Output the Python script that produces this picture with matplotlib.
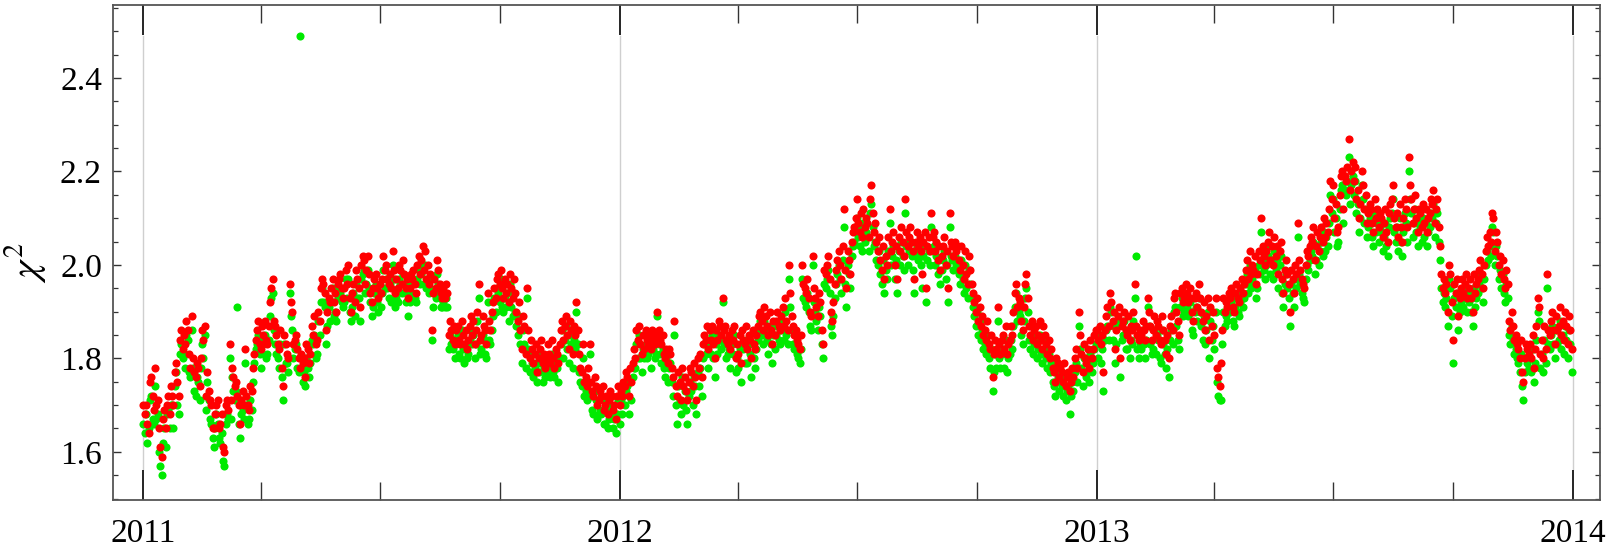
import numpy as np
import pandas as pd
import matplotlib
matplotlib.use("Agg")
import matplotlib.pyplot as plt
import matplotlib.dates as mdates
from matplotlib.ticker import MultipleLocator, FormatStrFormatter

# daily chi^2 of the two fits, in hundredths, one list per year
red_2011 = [
    170, 168, 170, 166, 164, 175, 176, 172, 169, 178,
    170, 171, 165, 161, 159, 167, 169, 165, 170, 172,
    168, 174, 172, 170, 177, 179, 175, 172, 184, 186,
    182, 185, 183, 188, 186, 181, 178, 189, 180, 177,
    176, 179, 178, 174, 180, 186, 184, 187, 172, 177,
    173, 171, 170, 165, 165, 168, 170, 171, 165, 166,
    168, 161, 160, 170, 171, 169, 183, 171, 178, 176,
    174, 175, 172, 170, 166, 171, 173, 170, 182, 172,
    170, 169, 174, 173, 178, 181, 184, 186, 188, 183,
    182, 187, 185, 188, 184, 183, 187, 192, 195, 197,
    188, 187, 185, 183, 182, 186, 178, 174, 185, 183,
    181, 180, 196, 192, 190, 183, 184, 185, 182, 180,
    178, 181, 179, 180, 176, 183, 182, 179, 181, 187,
    185, 189, 183, 184, 190, 188, 195, 197, 196, 194,
    186, 190, 193, 192, 195, 197, 192, 194, 190, 196,
    197, 198, 195, 193, 195, 199, 196, 200, 193, 190,
    194, 196, 192, 199, 197, 195, 191, 200, 202, 201,
    196, 199, 202, 198, 194, 192, 195, 197, 198, 195,
    193, 196, 194, 197, 202, 199, 200, 197, 196, 198,
    195, 203, 199, 194, 197, 195, 200, 199, 196, 201,
    198, 195, 197, 193, 195, 198, 197, 199, 196, 194,
    200, 202, 198, 201, 204, 199, 203, 197, 200, 196,
    198, 186, 194, 197, 195, 201, 199, 196, 194, 193,
    195, 193, 196, 194, 185, 188, 186, 184, 187, 183,
    186, 187, 184, 183, 188, 185, 183, 186, 182, 184,
    187, 189, 185, 188, 183, 186, 190, 196, 184, 185,
    189, 187, 186, 183, 194, 188, 186, 190, 192, 195,
    193, 197, 198, 196, 199, 195, 193, 197, 194, 196,
    192, 198, 195, 193, 197, 194, 190, 188, 192, 186,
    182, 189, 187, 181, 195, 186, 180, 184, 182, 179,
    181, 183, 177, 180, 182, 184, 179, 181, 178, 180,
    183, 181, 179, 184, 180, 178, 182, 181, 179, 183,
    186, 188, 184, 187, 189, 185, 182, 188, 186, 181,
    187, 185, 192, 186, 181, 178, 177, 183, 175, 176,
    174, 178, 183, 175, 173, 172, 176, 174, 170, 171,
    173, 172, 174, 169, 170, 172, 168, 171, 173, 172,
    169, 170, 167, 172, 174,
]
green_2011 = [
    166, 164, 168, 162, 165, 171, 172, 167, 166, 174,
    167, 168, 160, 157, 155, 162, 165, 161, 168, 169,
    165, 170, 170, 165, 174, 177, 170, 168, 181, 183,
    180, 181, 178, 185, 184, 177, 176, 186, 178, 173,
    172, 176, 175, 171, 178, 183, 180, 185, 169, 175,
    171, 167, 166, 163, 161, 165, 168, 166, 163, 162,
    164, 158, 157, 166, 168, 167, 180, 167, 176, 173,
    171, 173, 191, 166, 163, 168, 169, 167, 179, 170,
    166, 167, 171, 169, 175, 179, 182, 183, 185, 181,
    178, 184, 183, 185, 180, 181, 184, 189, 193, 194,
    186, 183, 181, 180, 178, 183, 176, 171, 183, 179,
    179, 177, 194, 189, 186, 180, 182, 183, 178, 177,
    249, 178, 175, 177, 174, 180, 178, 176, 179, 184,
    183, 185, 180, 181, 188, 185, 192, 195, 192, 191,
    183, 187, 191, 188, 192, 195, 189, 190, 188, 193,
    195, 194, 192, 191, 192, 197, 193, 197, 190, 188,
    191, 194, 189, 196, 193, 193, 188, 197, 198, 199,
    194, 196, 199, 195, 192, 189, 191, 194, 196, 192,
    190, 194, 191, 194, 199, 195, 197, 195, 193, 196,
    192, 200, 197, 191, 193, 192, 197, 196, 194, 198,
    196, 192, 194, 189, 192, 196, 194, 197, 193, 192,
    197, 199, 196, 198, 200, 196, 200, 195, 197, 194,
    195, 184, 191, 194, 193, 198, 196, 193, 191, 191,
    192, 191, 193, 191, 182, 185, 183, 182, 184, 180,
    183, 185, 181, 180, 186, 182, 179, 183, 180, 181,
    184, 186, 183, 185, 180, 183, 188, 193, 181, 182,
    185, 184, 181, 180, 192, 184, 183, 186, 189, 193,
    190, 195, 194, 192, 197, 191, 190, 193, 191, 194,
    188, 196, 191, 189, 194, 190, 187, 185, 189, 183,
    179, 186, 183, 178, 193, 182, 177, 181, 179, 176,
    178, 179, 175, 177, 179, 181, 175, 178, 176, 177,
    179, 178, 176, 181, 177, 176, 179, 178, 175, 180,
    183, 186, 180, 184, 187, 182, 179, 185, 183, 178,
    184, 182, 190, 183, 177, 175, 174, 180, 172, 173,
    171, 175, 181, 172, 169, 168, 173, 171, 167, 168,
    169, 168, 171, 166, 166, 169, 165, 167, 170, 168,
    165, 167, 164, 168, 171,
]

red_2012 = [
    170, 173, 172, 175, 174, 177, 176, 172, 178, 175,
    179, 182, 180, 186, 184, 187, 183, 181, 185, 182,
    186, 184, 183, 185, 182, 186, 184, 183, 185, 190,
    186, 184, 183, 185, 181, 180, 182, 179, 182, 181,
    178, 176, 188, 174, 172, 177, 175, 171, 178, 174,
    176, 173, 171, 175, 178, 177, 174, 179, 176, 171,
    180, 178, 181, 176, 183, 185, 184, 187, 182, 186,
    184, 187, 183, 180, 186, 184, 188, 187, 185, 193,
    186, 187, 184, 183, 185, 182, 186, 184, 187, 180,
    183, 181, 185, 179, 186, 184, 183, 187, 182, 185,
    184, 180, 186, 183, 182, 185, 187, 189, 190, 188,
    186, 191, 189, 187, 185, 190, 186, 183, 188, 185,
    188, 190, 187, 186, 189, 191, 187, 193, 188, 186,
    200, 194, 189, 187, 185, 186, 184, 183, 182, 185,
    200, 196, 195, 194, 197, 193, 190, 189, 202, 195,
    193, 191, 189, 194, 192, 186, 183, 199, 198, 200,
    202, 197, 190, 188, 192, 196, 199, 201, 203, 200,
    197, 204, 212, 199, 195, 203, 201, 198, 205, 207,
    208, 210, 214, 209, 207, 211, 206, 212, 208, 210,
    209, 206, 214, 217, 211, 207, 209, 205, 203, 206,
    201, 199, 204, 197, 202, 200, 206, 212, 203, 205,
    207, 200, 204, 197, 206, 203, 208, 205, 202, 214,
    207, 204, 206, 208, 205, 203, 197, 205, 207, 204,
    206, 203, 198, 205, 207, 195, 204, 206, 203, 211,
    206, 207, 203, 205, 201, 204, 199, 202, 204, 206,
    200, 203, 195, 211, 205, 204, 202, 205, 203, 204,
    201, 199, 204, 200, 197, 203, 198, 196, 202, 199,
    196, 194, 192, 190, 193, 188, 191, 187, 189, 185,
    186, 184, 188, 183, 182, 185, 176, 181, 184, 182,
    191, 183, 181, 184, 185, 182, 187, 181, 183, 184,
    187, 185, 190, 194, 196, 191, 193, 192, 188, 186,
    191, 196, 198, 193, 187, 185, 188, 184, 186, 187,
    183, 185, 188, 184, 182, 187, 185, 183, 181, 184,
    180, 182, 178, 177, 175, 180, 179, 176, 178, 177,
    175, 179, 174, 176, 177, 173, 175, 178, 176, 180,
    182, 178, 190, 185, 181, 177, 183, 180, 179, 182,
    178, 184, 180, 182, 185, 186,
]
green_2012 = [
    166, 171, 168, 172, 170, 173, 174, 168, 175, 171,
    176, 178, 178, 183, 180, 185, 180, 177, 182, 180,
    183, 180, 181, 182, 178, 182, 182, 180, 181, 189,
    183, 181, 179, 182, 178, 176, 180, 175, 178, 179,
    175, 172, 185, 170, 166, 174, 171, 168, 176, 170,
    173, 169, 166, 172, 175, 173, 170, 176, 174, 168,
    177, 174, 178, 172, 180, 183, 181, 184, 178, 183,
    181, 185, 180, 176, 183, 181, 185, 184, 182, 192,
    183, 184, 180, 181, 182, 178, 183, 181, 185, 177,
    180, 178, 182, 175, 183, 182, 179, 184, 179, 183,
    181, 176, 183, 180, 178, 182, 184, 186, 188, 185,
    183, 188, 186, 184, 181, 187, 183, 179, 185, 182,
    185, 187, 184, 183, 186, 188, 184, 190, 185, 183,
    197, 191, 186, 183, 182, 183, 181, 180, 179, 182,
    197, 193, 192, 191, 194, 190, 187, 186, 200, 192,
    190, 188, 186, 191, 189, 183, 180, 196, 195, 197,
    199, 194, 187, 185, 189, 193, 196, 198, 200, 197,
    194, 201, 208, 196, 191, 200, 198, 195, 202, 204,
    205, 207, 210, 206, 204, 208, 203, 209, 205, 207,
    206, 203, 211, 213, 208, 204, 205, 201, 200, 203,
    198, 196, 201, 194, 199, 197, 203, 209, 200, 202,
    204, 197, 201, 194, 203, 200, 205, 202, 199, 211,
    204, 200, 203, 205, 202, 199, 194, 202, 204, 201,
    203, 200, 195, 202, 204, 192, 201, 203, 200, 208,
    203, 204, 200, 202, 198, 201, 196, 199, 201, 203,
    197, 200, 192, 208, 202, 201, 199, 202, 200, 201,
    198, 196, 201, 197, 194, 200, 195, 193, 199, 196,
    193, 191, 189, 187, 190, 185, 188, 184, 186, 182,
    183, 181, 185, 180, 178, 182, 173, 177, 181, 178,
    188, 180, 178, 181, 182, 178, 184, 177, 180, 181,
    184, 182, 187, 191, 194, 188, 190, 189, 185, 183,
    188, 193, 195, 190, 184, 182, 185, 181, 183, 184,
    180, 182, 185, 181, 179, 184, 182, 180, 178, 181,
    177, 179, 175, 174, 172, 177, 176, 173, 175, 174,
    172, 176, 171, 173, 174, 168, 172, 175, 173, 177,
    179, 175, 187, 182, 178, 174, 180, 177, 176, 179,
    175, 181, 177, 179, 182, 183,
]

red_2013 = [
    186, 184, 187, 183, 185, 177, 186, 189, 191, 187,
    194, 192, 188, 190, 182, 186, 189, 191, 180, 187,
    188, 190, 186, 185, 189, 184, 187, 186, 190, 196,
    187, 185, 184, 186, 185, 188, 186, 184, 187, 193,
    190, 187, 184, 186, 189, 185, 188, 187, 184, 183,
    189, 186, 184, 181, 185, 180, 187, 189, 186, 193,
    194, 190, 188, 185, 194, 195, 192, 193, 196, 194,
    192, 195, 193, 190, 188, 193, 194, 191, 196, 193,
    190, 188, 192, 186, 189, 193, 184, 191, 187, 190,
    185, 193, 178, 176, 174, 179, 186, 193, 190, 192,
    191, 194, 193, 195, 191, 190, 194, 196, 193, 192,
    195, 197, 194, 196, 199, 201, 197, 203, 198, 200,
    199, 202, 196, 198, 203, 201, 210, 204, 202, 200,
    203, 205, 207, 201, 204, 200, 206, 202, 204, 198,
    203, 205, 197, 194, 199, 201, 198, 196, 190, 199,
    197, 194, 200, 198, 209, 201, 199, 197, 196, 195,
    200, 203, 202, 204, 206, 205, 208, 201, 204, 207,
    203, 206, 208, 205, 210, 206, 209, 207, 212, 218,
    214, 217, 210, 213, 207, 208, 215, 219, 220, 212,
    219, 218, 221, 227, 216, 220, 222, 218, 221, 214,
    216, 210, 213, 220, 217, 212, 215, 209, 211, 213,
    212, 209, 207, 214, 210, 212, 208, 211, 210, 206,
    209, 212, 207, 205, 211, 213, 214, 217, 210, 208,
    211, 206, 213, 208, 205, 210, 214, 212, 208, 223,
    217, 214, 209, 212, 215, 210, 207, 212, 211, 208,
    213, 209, 212, 207, 210, 211, 214, 213, 216, 209,
    212, 214, 208, 204, 198, 195, 197, 194, 196, 190,
    200, 198, 192, 184, 196, 194, 197, 189, 193, 195,
    197, 194, 196, 198, 193, 195, 197, 193, 190, 198,
    194, 196, 197, 199, 201, 198, 195, 200, 203, 206,
    204, 207, 205, 211, 210, 203, 207, 205, 200, 202,
    198, 201, 197, 195, 199, 196, 188, 186, 190, 187,
    184, 185, 183, 182, 180, 184, 177, 175, 180, 183,
    182, 181, 183, 180, 185, 178, 182, 187, 193, 191,
    181, 184, 180, 187, 182, 198, 186, 185, 188, 190,
    186, 183, 189, 186, 187, 191, 185, 188, 184, 190,
    187, 183, 189, 186, 182,
]
green_2013 = [
    183, 180, 185, 179, 182, 173, 184, 186, 187, 184,
    191, 190, 184, 187, 179, 183, 187, 188, 176, 184,
    185, 188, 182, 182, 186, 180, 184, 183, 188, 193,
    202, 182, 180, 183, 182, 186, 183, 180, 184, 191,
    187, 183, 181, 182, 186, 181, 185, 184, 180, 179,
    186, 183, 181, 178, 182, 176, 184, 186, 183, 190,
    191, 187, 184, 182, 191, 193, 189, 190, 193, 191,
    189, 192, 190, 186, 185, 190, 191, 188, 193, 190,
    187, 184, 189, 183, 186, 190, 180, 188, 184, 187,
    182, 190, 175, 172, 171, 171, 183, 190, 187, 189,
    188, 191, 190, 192, 188, 187, 191, 193, 190, 189,
    192, 194, 191, 193, 196, 198, 194, 200, 195, 197,
    196, 199, 193, 195, 200, 198, 207, 201, 199, 197,
    200, 202, 204, 198, 201, 197, 203, 199, 201, 195,
    200, 202, 194, 191, 196, 198, 195, 193, 187, 196,
    194, 191, 197, 195, 206, 198, 196, 194, 193, 192,
    197, 200, 199, 201, 203, 202, 205, 198, 201, 204,
    200, 203, 205, 202, 207, 203, 206, 204, 209, 215,
    211, 214, 207, 210, 204, 205, 212, 216, 217, 209,
    216, 215, 218, 223, 213, 217, 219, 215, 218, 211,
    213, 207, 210, 217, 214, 209, 212, 206, 208, 210,
    209, 206, 204, 211, 207, 209, 205, 208, 207, 203,
    206, 209, 204, 202, 208, 210, 211, 214, 207, 205,
    208, 203, 210, 205, 202, 207, 211, 209, 205, 220,
    214, 211, 206, 209, 212, 207, 204, 209, 208, 205,
    210, 206, 209, 204, 207, 208, 211, 210, 213, 206,
    209, 211, 205, 201, 195, 192, 194, 191, 193, 187,
    197, 195, 189, 179, 193, 191, 194, 186, 190, 192,
    194, 191, 193, 195, 190, 192, 194, 190, 187, 195,
    191, 193, 194, 196, 198, 195, 192, 197, 200, 203,
    201, 204, 202, 208, 207, 200, 204, 202, 197, 199,
    195, 198, 194, 192, 196, 193, 185, 183, 187, 184,
    181, 182, 180, 179, 177, 181, 174, 171, 177, 180,
    179, 178, 180, 177, 182, 175, 179, 184, 190, 188,
    178, 181, 177, 184, 179, 195, 183, 182, 185, 187,
    183, 180, 186, 183, 184, 188, 182, 185, 181, 187,
    184, 180, 186, 183, 177,
]

years = [2011, 2012, 2013]
red_years = [red_2011, red_2012, red_2013]
green_years = [green_2011, green_2012, green_2013]

plt.rcParams['font.family'] = ['Liberation Serif', 'DejaVu Serif']
plt.rcParams['mathtext.fontset'] = 'stix'

fig = plt.figure(figsize=(16.1, 5.48), dpi=100)
ax = fig.add_axes([0.0702, 0.0876, 0.9236, 0.9033])

# year gridlines, stopping at the long year ticks
for yr in years + [2014]:
    ax.axvline(pd.Timestamp(f"{yr}-01-01"), ymin=0.062, ymax=0.938,
               color='#cfcfcf', lw=1.0, zorder=0)

for yr, vals in zip(years, green_years):
    days = pd.date_range(f"{yr}-01-01", f"{yr}-12-31", periods=len(vals))
    ax.scatter(days, np.array(vals) / 100, s=34, color='#00ea00',
               linewidths=0, zorder=2)
for yr, vals in zip(years, red_years):
    days = pd.date_range(f"{yr}-01-01", f"{yr}-12-31", periods=len(vals))
    ax.scatter(days, np.array(vals) / 100, s=34, color='#ff0000',
               linewidths=0, zorder=3)

ax.set_xlim(pd.Timestamp('2010-12-08 16:00'), pd.Timestamp('2014-01-21 17:00'))
ax.set_ylim(1.497, 2.556)

ax.xaxis.set_major_locator(mdates.YearLocator())
ax.xaxis.set_major_formatter(mdates.DateFormatter('%Y'))
ax.xaxis.set_minor_locator(mdates.MonthLocator(bymonth=[4, 7, 10]))
ax.yaxis.set_major_locator(MultipleLocator(0.2))
ax.yaxis.set_major_formatter(FormatStrFormatter('%.1f'))
ax.yaxis.set_minor_locator(MultipleLocator(0.05))

ax.tick_params(axis='x', which='major', direction='in', length=21.6, width=1.2,
               top=True, pad=13, labelsize=24, color='black')
ax.tick_params(axis='x', which='minor', direction='in', length=13, width=1.0,
               top=True, color='#333333')
ax.tick_params(axis='y', which='major', direction='in', length=6, width=1.0,
               right=True, pad=8, labelsize=24, color='#333333')
ax.tick_params(axis='y', which='minor', direction='in', length=3.5, width=0.9,
               right=True, color='#333333')

for sp in ax.spines.values():
    sp.set_color('#555555')
    sp.set_linewidth(1.3)

ax.set_ylabel(r'$\chi^2$', fontsize=29)
ax.yaxis.set_label_coords(-0.044, 0.479)

fig.savefig('out.png', dpi=100)
